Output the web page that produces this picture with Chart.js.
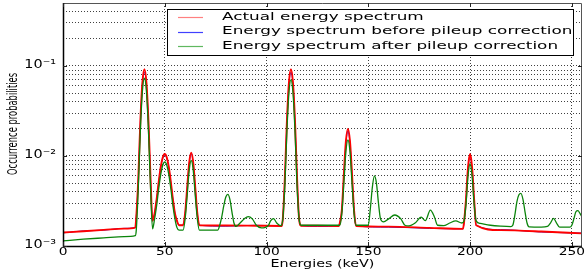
<!DOCTYPE html>
<html>
<head>
<meta charset="utf-8">
<script src="https://cdn.jsdelivr.net/npm/chart.js@4.4.0/dist/chart.umd.min.js"></script>
<style>
  html, body { margin: 0; padding: 0; background: #fff; }
  #wrap { width: 585px; height: 272px; }
</style>
</head>
<body>
<div id="wrap"><canvas id="spec"></canvas></div>
<script>
// energies (keV) shared by actual and "before" spectra
var energies = [0, 10, 20, 30, 35.5,
  36, 37, 38, 39, 40, 41, 42, 43, 44,
  45, 46, 47, 48, 49, 50, 51, 52, 53, 54, 55, 56, 57,
  59, 60, 61, 62, 63, 64, 65, 66, 67,
  80, 95, 107.5,
  108, 109, 110, 111, 112, 113, 114, 115, 116, 117,
  125, 135.5,
  136, 137, 138, 139, 140, 141, 142, 143, 144,
  160, 180, 196.5,
  197, 198, 199, 200, 201, 202, 203,
  215, 235, 255];

var actual = [0.00141, 0.00146, 0.00151, 0.00156, 0.0016,
  0.0021, 0.0057, 0.024, 0.065, 0.092, 0.065, 0.024, 0.0057, 0.0019,
  0.0023, 0.0033, 0.0051, 0.0075, 0.0096, 0.0105, 0.0096, 0.0075, 0.0051, 0.0033, 0.0023, 0.0019, 0.0017,
  0.0017, 0.0023, 0.0044, 0.0084, 0.0109, 0.0084, 0.0044, 0.0023, 0.0017,
  0.00169, 0.00168, 0.00167,
  0.002, 0.0057, 0.024, 0.065, 0.092, 0.065, 0.024, 0.0057, 0.002, 0.00168,
  0.00168, 0.00167,
  0.0018, 0.0025, 0.0063, 0.0146, 0.02, 0.0146, 0.0063, 0.0025, 0.00167,
  0.00164, 0.00159, 0.00155,
  0.0018, 0.0033, 0.0075, 0.0105, 0.0075, 0.0033, 0.0017,
  0.0015, 0.00145, 0.00138];

var before = [0.0014, 0.00147, 0.0015, 0.00157, 0.0016,
  0.0021, 0.0055, 0.023, 0.062, 0.085, 0.062, 0.023, 0.0055, 0.0019,
  0.0023, 0.0033, 0.005, 0.0074, 0.0094, 0.0102, 0.0094, 0.0074, 0.005, 0.0033, 0.0023, 0.0019, 0.0017,
  0.0017, 0.0023, 0.0043, 0.0082, 0.0106, 0.0082, 0.0043, 0.0023, 0.0017,
  0.00166, 0.0017, 0.00167,
  0.002, 0.0055, 0.023, 0.062, 0.085, 0.062, 0.023, 0.0055, 0.002, 0.00168,
  0.00165, 0.00167,
  0.0018, 0.0025, 0.006, 0.0138, 0.019, 0.0138, 0.006, 0.0025, 0.00167,
  0.00162, 0.00157, 0.00155,
  0.0018, 0.0032, 0.0072, 0.0099, 0.0072, 0.0032, 0.0017,
  0.00152, 0.00143, 0.00139];

var afterE = [0, 10, 20, 30, 35.5,
  36, 37, 38, 39, 40, 41, 42, 43, 44,
  45, 46, 47, 48, 49, 50, 51, 52, 53, 54, 55, 56, 57,
  59, 60, 61, 62, 63, 64, 65, 66, 67,
  76, 77, 78, 79, 80, 81, 82, 83, 84, 85,
  87, 89, 91, 93, 95, 97.5, 99, 101, 102, 103.5, 105, 107,
  108, 109, 110, 111, 112, 113, 114, 115, 116, 117,
  135.5, 136, 137, 138, 139, 140, 141, 142, 143, 144,
  150, 151, 152, 153, 154, 155, 156, 157.5,
  160, 163, 166, 168, 170, 173, 176, 178, 180.5, 182.5, 184, 187, 190, 193, 196,
  197, 198, 199, 200, 201, 202, 203,
  205, 210, 215, 220, 221, 222, 223, 224, 225, 226, 227, 228, 229,
  235, 238, 239.5, 241, 242.5, 244, 249, 250, 251, 252, 253, 254, 255];

var after = [0.00114, 0.00119, 0.00123, 0.00127, 0.0013,
  0.0015, 0.0045, 0.019, 0.052, 0.073, 0.052, 0.019, 0.0045, 0.00155,
  0.002, 0.0028, 0.0043, 0.0062, 0.0079, 0.0086, 0.0079, 0.0062, 0.0043, 0.0028, 0.002, 0.0016, 0.0015,
  0.0015, 0.002, 0.0036, 0.0069, 0.0089, 0.0069, 0.0036, 0.002, 0.0015,
  0.0015, 0.0017, 0.0021, 0.0028, 0.0035, 0.00375, 0.0033, 0.0024, 0.0018, 0.00165,
  0.0018, 0.002, 0.00212, 0.002, 0.0017, 0.00159, 0.0016, 0.0017, 0.0019, 0.00201, 0.0018, 0.00168,
  0.002, 0.0047, 0.0187, 0.05, 0.07, 0.05, 0.0187, 0.0047, 0.002, 0.0017,
  0.0017, 0.0017, 0.0023, 0.005, 0.0112, 0.0151, 0.0112, 0.005, 0.0023, 0.0017,
  0.0017, 0.0026, 0.0045, 0.006, 0.005, 0.003, 0.002, 0.00185,
  0.002, 0.00221, 0.002, 0.0017, 0.00167, 0.0018, 0.00209, 0.00191, 0.0025, 0.0021, 0.0017, 0.00168, 0.0018, 0.0019, 0.0018,
  0.0019, 0.0029, 0.006, 0.0082, 0.006, 0.0029, 0.0019,
  0.00178, 0.0017, 0.00166, 0.00164, 0.0017, 0.0022, 0.0031, 0.0037, 0.00385, 0.0033, 0.0024, 0.0018, 0.00163,
  0.00162, 0.00165, 0.0018, 0.00203, 0.0018, 0.00162, 0.00162, 0.0017, 0.002, 0.0024, 0.00247, 0.0023, 0.0021];

var seriesNames = ['Actual energy spectrum', 'Energy spectrum before pileup correction', 'Energy spectrum after pileup correction'];
var xTicks = [0, 50, 100, 150, 200, 250];
var yGrid = [0.001, 0.002, 0.003, 0.004, 0.005, 0.006, 0.007, 0.008, 0.009,
  0.01, 0.02, 0.03, 0.04, 0.05, 0.06, 0.07, 0.08, 0.09,
  0.1, 0.2, 0.3, 0.4, 0.5];
var yTicks = [0.001, 0.01, 0.1];
var yTickLabels = ['10\u207B\u00B3', '10\u207B\u00B2', '10\u207B\u00B9'];
var xTitle = 'Energies (keV)';
var yTitle = 'Occurrence probabilities';

function pts(xs, ys) {
  return xs.map(function (x, i) { return { x: x, y: ys[i] }; });
}

function txt(ctx, s, x, y, align, size, sx) {
  ctx.save();
  ctx.translate(x, y);
  ctx.scale(sx, 1);
  ctx.font = size + 'px "DejaVu Sans"';
  ctx.textAlign = align;
  ctx.textBaseline = 'middle';
  ctx.fillStyle = '#000';
  ctx.fillText(s, 0, 0);
  ctx.restore();
}

var decor = {
  id: 'decor',
  afterDraw: function (chart) {
    var ctx = chart.ctx, a = chart.chartArea;
    var xs = chart.scales.x, ys = chart.scales.y;

    // frame
    ctx.save();
    ctx.strokeStyle = '#555';
    ctx.lineWidth = 1;
    ctx.beginPath();
    ctx.moveTo(a.left, a.top + 0.5); ctx.lineTo(a.right - 0.5, a.top + 0.5); ctx.lineTo(a.right - 0.5, a.bottom);
    ctx.stroke();
    ctx.strokeStyle = '#000';
    ctx.lineWidth = 1.5;
    ctx.beginPath();
    ctx.moveTo(a.left + 0.5, a.top); ctx.lineTo(a.left + 0.5, a.bottom + 0.5); ctx.lineTo(a.right, a.bottom + 0.5);
    ctx.stroke();
    // inward ticks
    ctx.lineWidth = 1;
    ctx.strokeStyle = '#222';
    ctx.beginPath();
    xTicks.forEach(function (v) {
      var px = Math.round(xs.getPixelForValue(v)) + 0.5;
      ctx.moveTo(px, a.bottom); ctx.lineTo(px, a.bottom - 4);
      ctx.moveTo(px, a.top); ctx.lineTo(px, a.top + 4);
    });
    yTicks.forEach(function (v) {
      var py = Math.round(ys.getPixelForValue(v)) + 0.5;
      ctx.moveTo(a.left, py); ctx.lineTo(a.left + 4, py);
      ctx.moveTo(a.right, py); ctx.lineTo(a.right - 4, py);
    });
    ctx.stroke();
    ctx.restore();

    // tick labels
    xTicks.forEach(function (v) {
      txt(ctx, String(v), xs.getPixelForValue(v), a.bottom + 6, 'center', 11, 1.25);
    });
    yTicks.forEach(function (v, i) {
      txt(ctx, yTickLabels[i], a.left - 7, ys.getPixelForValue(v) - 1, 'right', 12, 1.2);
    });
    // axis titles
    txt(ctx, xTitle, (a.left + a.right) / 2, a.bottom + 18, 'center', 11, 1.3);
    ctx.save();
    ctx.translate(13, 124);
    ctx.rotate(-Math.PI / 2);
    ctx.font = '14px "DejaVu Sans Condensed"';
    ctx.textAlign = 'center';
    ctx.textBaseline = 'middle';
    ctx.fillStyle = '#000';
    ctx.fillText(yTitle, 0, 0, 102);
    ctx.restore();

    // legend
    var L = 167, T = 9, R = 573, B = 55;
    ctx.save();
    ctx.fillStyle = '#fff';
    ctx.fillRect(L, T, R - L, B - T);
    ctx.strokeStyle = '#000';
    ctx.lineWidth = 1;
    ctx.strokeRect(L + 0.5, T + 0.5, R - L, B - T);
    chart.data.datasets.forEach(function (ds, i) {
      var yy = T + 8 + i * 14.5;
      ctx.strokeStyle = ds.legendColor;
      ctx.lineWidth = 1.2;
      ctx.beginPath();
      ctx.moveTo(178, Math.round(yy) + 0.5); ctx.lineTo(203, Math.round(yy) + 0.5);
      ctx.stroke();
      txt(ctx, ds.label, 222, yy, 'left', 11, 1.53);
    });
    ctx.restore();
  }
};

var gridStyle = { color: 'rgba(0,0,0,0.75)', lineWidth: 1, drawTicks: false };

new Chart(document.getElementById('spec'), {
  type: 'line',
  data: {
    datasets: [
      { label: seriesNames[0], data: pts(energies, actual), borderColor: '#ff0000', legendColor: '#ff8080', borderWidth: 1.9, order: 1 },
      { label: seriesNames[1], data: pts(energies, before), borderColor: '#1010e0', legendColor: '#4040ff', borderWidth: 1, order: 2 },
      { label: seriesNames[2], data: pts(afterE, after), borderColor: '#0a840a', legendColor: '#60b860', borderWidth: 1.3, order: 0 }
    ]
  },
  options: {
    responsive: true,
    maintainAspectRatio: false,
    animation: false,
    events: [],
    layout: { padding: { top: 3, right: 3, left: 0, bottom: 0 } },
    elements: { point: { radius: 0 }, line: { cubicInterpolationMode: 'monotone', fill: false } },
    plugins: { legend: { display: false }, tooltip: { enabled: false }, title: { display: false } },
    scales: {
      x: {
        type: 'linear', min: 0, max: 255,
        afterBuildTicks: function (s) { s.ticks = xTicks.map(function (v) { return { value: v }; }); },
        afterFit: function (s) { s.height = 26; },
        ticks: { display: false },
        grid: gridStyle,
        border: { display: false, dash: [1, 2] }
      },
      y: {
        type: 'logarithmic', min: 0.001, max: 0.5,
        afterBuildTicks: function (s) { s.ticks = yGrid.map(function (v) { return { value: v }; }); },
        afterFit: function (s) { s.width = 63; },
        ticks: { display: false },
        grid: gridStyle,
        border: { display: false, dash: [1, 2] }
      }
    }
  },
  plugins: [decor]
});
</script>
</body>
</html>
